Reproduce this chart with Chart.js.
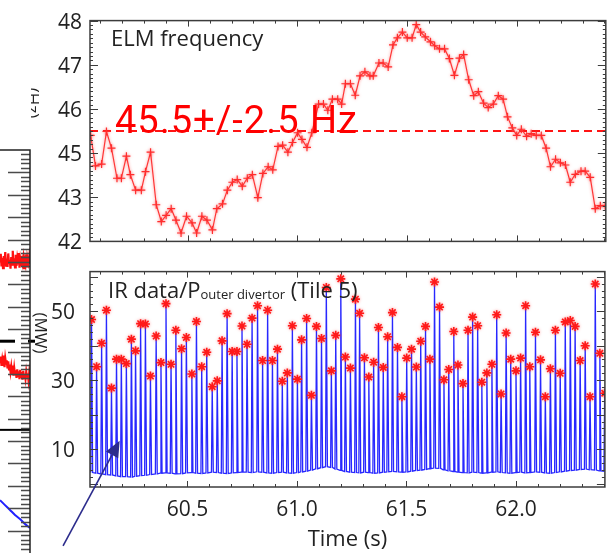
<!DOCTYPE html>
<html>
<head>
<meta charset="utf-8">
<script src="https://cdn.jsdelivr.net/npm/chart.js@4.4.1/dist/chart.umd.min.js"></script>
<style>
  html, body { margin: 0; padding: 0; background: #fff; }
  #wrap { position: relative; width: 611px; height: 553px; overflow: hidden; background: #fff; }
  canvas { position: absolute; left: 0; }
</style>
</head>
<body>
<div id="wrap">
  <canvas id="cLeft" width="40" height="413" style="top:140px"></canvas>
  <canvas id="cTop" width="611" height="262" style="top:0"></canvas>
  <canvas id="cBot" width="611" height="309" style="top:244px"></canvas>
</div>
<script>
// ---- time window (s) ----
const X_MIN = 60.055;
const X_MAX = 62.406;
const TIME_TICKS = [60.5, 61.0, 61.5, 62.0];

// ---- ELM frequency (Hz) at each ELM ----
const ELM_TIME = [
  60.058, 60.080, 60.108, 60.130, 60.153, 60.178, 60.198, 60.221, 60.239, 60.263,
  60.289, 60.308, 60.331, 60.357, 60.380, 60.402, 60.425, 60.447, 60.470, 60.495,
  60.520, 60.541, 60.565, 60.588, 60.613, 60.633, 60.659, 60.681, 60.704, 60.726,
  60.749, 60.772, 60.795, 60.820, 60.843, 60.867, 60.888, 60.912, 60.933, 60.957,
  60.978, 61.001, 61.021, 61.044, 61.066, 61.097, 61.119, 61.139, 61.160, 61.184,
  61.202, 61.219, 61.242, 61.264, 61.286, 61.308, 61.331, 61.346, 61.372, 61.391,
  61.414, 61.436, 61.456, 61.479, 61.501, 61.523, 61.542, 61.562, 61.583, 61.607,
  61.626, 61.648, 61.671, 61.693, 61.716, 61.739, 61.758, 61.781, 61.804, 61.825,
  61.849, 61.870, 61.893, 61.916, 61.938, 61.958, 61.980, 62.000, 62.021, 62.045,
  62.066, 62.089, 62.112, 62.134, 62.154, 62.177, 62.199, 62.222, 62.244, 62.267,
  62.293, 62.312, 62.335, 62.358, 62.381, 62.403
];
const ELM_FREQ = [
  45.40, 44.71, 44.75, 45.49, 45.11, 44.43, 44.43, 44.93, 44.51, 44.16,
  44.16, 44.58, 45.02, 43.83, 43.45, 43.59, 43.74, 43.48, 43.19, 43.57,
  43.42, 43.19, 43.57, 43.48, 43.26, 43.74, 43.85, 44.16, 44.34, 44.40,
  44.25, 44.43, 44.51, 43.99, 44.54, 44.69, 44.62, 45.15, 45.18, 45.02,
  45.24, 45.46, 45.31, 45.13, 45.46, 46.11, 46.11, 45.97, 46.22, 46.22,
  46.11, 46.57, 46.57, 46.31, 46.75, 46.84, 46.75, 46.75, 47.04, 47.04,
  46.95, 47.45, 47.61, 47.74, 47.61, 47.61, 47.91, 47.74, 47.63, 47.52,
  47.43, 47.36, 47.36, 47.14, 46.76, 47.15, 47.23, 46.66, 46.30, 46.39,
  46.13, 46.03, 46.11, 46.30, 46.22, 45.82, 45.57, 45.40, 45.54, 45.38,
  45.44, 45.40, 45.40, 45.11, 44.69, 44.86, 44.78, 44.73, 44.34, 44.52,
  44.59, 44.59, 44.45, 43.74, 43.81, 43.81
];
const REF_FREQ = 45.5;
const REF_SPREAD = 2.5;
const FREQ_TICKS = [43, 44, 45, 46, 47, 48];
const FREQ_TICK_LABELS = ['42', '43', '45', '46', '47', '48'];

// ---- IR heat load on the outer divertor (MW) ----
const PEAK_TIME = [
  60.062, 60.085, 60.108, 60.130, 60.153, 60.176, 60.198, 60.221, 60.244, 60.263,
  60.286, 60.308, 60.331, 60.357, 60.379, 60.402, 60.425, 60.447, 60.473, 60.495,
  60.520, 60.541, 60.565, 60.588, 60.613, 60.636, 60.658, 60.681, 60.704, 60.726,
  60.749, 60.772, 60.795, 60.820, 60.843, 60.866, 60.888, 60.911, 60.933, 60.956,
  60.979, 61.002, 61.021, 61.044, 61.066, 61.089, 61.112, 61.134, 61.157, 61.177,
  61.200, 61.221, 61.244, 61.267, 61.286, 61.308, 61.328, 61.350, 61.372, 61.394,
  61.414, 61.436, 61.459, 61.479, 61.501, 61.523, 61.545, 61.565, 61.587, 61.607,
  61.628, 61.651, 61.671, 61.693, 61.716, 61.735, 61.758, 61.781, 61.802, 61.825,
  61.844, 61.867, 61.890, 61.912, 61.932, 61.955, 61.976, 62.000, 62.021, 62.044,
  62.063, 62.089, 62.112, 62.134, 62.157, 62.180, 62.202, 62.225, 62.248, 62.270,
  62.293, 62.316, 62.338, 62.362, 62.383, 62.405
];
const PEAK_MW = [
  47.6, 33.9, 40.7, 50.3, 27.7, 36.1, 36.1, 34.8, 41.9, 38.5,
  46.4, 46.3, 31.2, 42.8, 35.1, 52.2, 34.6, 44.5, 39.1, 42.4,
  31.8, 47.0, 33.9, 38.1, 28.1, 29.8, 41.4, 49.3, 38.3, 38.3,
  45.7, 40.4, 48.0, 51.6, 35.7, 50.3, 35.7, 39.0, 29.7, 32.1,
  45.8, 30.3, 41.7, 47.9, 25.6, 45.6, 42.1, 56.9, 32.7, 43.0,
  59.4, 36.7, 33.5, 53.5, 49.4, 36.5, 30.9, 35.2, 45.3, 33.7,
  42.6, 49.6, 39.5, 25.2, 36.4, 39.0, 33.8, 41.3, 45.6, 36.1,
  58.5, 51.2, 30.1, 33.1, 44.1, 34.4, 29.0, 44.5, 48.3, 45.8,
  29.4, 32.1, 34.6, 49.0, 26.0, 43.7, 36.1, 32.7, 36.4, 51.6,
  33.9, 43.9, 35.9, 25.2, 33.3, 44.5, 32.0, 46.9, 47.3, 45.6,
  35.7, 40.0, 25.2, 57.9, 37.8, 26.2
];
// inter-ELM background level ahead of each spike (MW)
const BASE_MW = [
  3.2, 3.0, 2.8, 2.6, 2.5, 2.2, 2.0, 2.0, 1.9, 2.1,
  2.3, 2.4, 2.6, 2.8, 3.0, 3.1, 3.0, 2.8, 2.9, 3.1,
  3.2, 3.0, 2.9, 3.1, 3.3, 3.2, 3.0, 2.9, 3.1, 3.2,
  3.3, 3.3, 3.2, 3.4, 3.3, 3.1, 3.0, 3.2, 3.3, 3.1,
  3.0, 3.2, 3.4, 3.6, 3.9, 4.3, 4.6, 4.9, 4.7, 4.2,
  3.8, 3.5, 3.3, 3.2, 3.1, 3.3, 3.2, 3.0, 3.1, 3.3,
  3.4, 3.5, 3.4, 3.3, 3.4, 3.6, 3.8, 3.9, 4.1, 4.3,
  4.5, 4.4, 4.0, 3.7, 3.5, 3.3, 3.2, 3.1, 3.3, 3.2,
  3.0, 3.1, 3.3, 3.4, 3.2, 3.1, 3.0, 3.2, 3.3, 3.1,
  3.2, 3.4, 3.3, 3.1, 3.0, 3.2, 3.4, 3.6, 3.8, 3.9,
  4.1, 4.2, 4.0, 3.9, 3.7, 3.6
];
const POWER_TICKS = [10, 30, 50];

// ---- neighbouring panel (left edge) ----
const NB_RED_A = [
  65.1, 66.8, 64.0, 65.9, 63.6, 66.3, 64.6, 67.2, 64.2, 65.7,
  63.9, 66.9, 64.8, 65.4, 63.5, 66.1, 64.4, 67.5, 64.9, 65.2,
  63.8, 66.6, 64.1, 65.8, 64.7, 67.0, 63.7, 65.5, 64.3, 66.4,
  64.9, 66.0, 63.6, 65.3, 64.5, 66.7, 64.0, 65.6, 64.8, 66.2, 64.6
];
const NB_RED_B = [
  42.6, 43.9, 41.8, 43.2, 42.0, 44.1, 41.5, 43.5, 42.3, 43.0,
  41.2, 42.8, 41.0, 42.1, 40.5, 41.7, 40.2, 41.9, 39.6, 41.3,
  39.9, 40.8, 39.1, 41.0, 39.5, 40.6, 38.8, 40.9, 39.3, 40.4,
  38.7, 40.7, 39.2, 40.0, 38.9, 40.5, 39.4, 40.1, 38.6, 40.3, 39.0
];
const NB_BLUE_X = [0, 5, 10, 15, 20, 25, 30];
const NB_BLUE_Y = [11.8, 10.7, 9.6, 8.5, 7.6, 6.5, 5.6];
const NB_MARK_A = 47.3;
const NB_MARK_B = 27.5;

// ---------------------------------------------------------------
const SANS = '"Open Sans", "DejaVu Sans", sans-serif';
const INK = '#222';
const AXIS = '#3c3c3c';

function pts(xs, ys) { return xs.map((x, i) => ({ x: x, y: ys[i] })); }

// Inward tick marks on all four sides plus the box
function drawBox(chart, cfg) {
  const { ctx, chartArea: a, scales } = chart;
  const xs = scales.x, ys = scales.y;
  ctx.save();
  ctx.strokeStyle = AXIS;
  ctx.lineWidth = 1;
  ctx.beginPath();
  const k0 = Math.ceil(xs.min / cfg.xStep - 1e-6), k1 = Math.floor(xs.max / cfg.xStep + 1e-6);
  for (let k = k0; k <= k1; k++) {
    const x = Math.round(xs.getPixelForValue(k * cfg.xStep)) + 0.5;
    const len = (k % cfg.xMajorEvery === 0) ? cfg.majorLen : cfg.minorLen;
    ctx.moveTo(x, a.bottom); ctx.lineTo(x, a.bottom - len);
    ctx.moveTo(x, a.top); ctx.lineTo(x, a.top + len);
  }
  const j0 = Math.ceil(ys.min / cfg.yStep - 1e-6), j1 = Math.floor(ys.max / cfg.yStep + 1e-6);
  for (let j = j0; j <= j1; j++) {
    const y = Math.round(ys.getPixelForValue(j * cfg.yStep)) + 0.5;
    const len = (j % cfg.yMajorEvery === 0) ? cfg.majorLen + 2 : cfg.minorLen;
    ctx.moveTo(a.left, y); ctx.lineTo(a.left + len, y);
    ctx.moveTo(a.right, y); ctx.lineTo(a.right - len, y);
  }
  ctx.stroke();
  ctx.lineWidth = 1.5;
  ctx.strokeRect(a.left, a.top, a.right - a.left, a.bottom - a.top);
  ctx.restore();
}

function rotatedText(ctx, text, x, y, font, clipLeft) {
  ctx.save();
  if (clipLeft !== undefined) {
    ctx.beginPath(); ctx.rect(clipLeft, 0, 200, 2000); ctx.clip();
  }
  ctx.translate(x, y);
  ctx.rotate(Math.PI / 2);
  ctx.font = font;
  ctx.fillStyle = INK;
  ctx.textAlign = 'center';
  ctx.textBaseline = 'middle';
  ctx.fillText(text, 0, 0);
  ctx.restore();
}

// soft red glow around the red markers
const glow = {
  id: 'glow',
  beforeDatasetDraw(chart, args) {
    if (chart.data.datasets[args.index].glow) {
      chart.ctx.save();
      chart.ctx.shadowColor = 'rgba(255,40,40,0.55)';
      chart.ctx.shadowBlur = 3;
    }
  },
  afterDatasetDraw(chart, args) {
    if (chart.data.datasets[args.index].glow) chart.ctx.restore();
  }
};

const common = {
  responsive: false,
  animation: false,
  events: [],
  plugins: { legend: { display: false }, tooltip: { enabled: false } }
};

// ================= top panel: ELM frequency =================
new Chart(document.getElementById('cTop'), {
  type: 'line',
  data: {
    datasets: [
      {
        data: pts(ELM_TIME, ELM_FREQ),
        glow: true,
        borderColor: 'rgb(255,55,55)',
        borderWidth: 1.2,
        pointStyle: 'cross',
        pointRadius: 4,
        pointBorderWidth: 1.2,
        pointBorderColor: 'rgb(255,45,45)',
        tension: 0
      },
      {
        data: [{ x: X_MIN, y: REF_FREQ }, { x: X_MAX, y: REF_FREQ }],
        borderColor: '#ff1414',
        borderWidth: 2,
        borderDash: [8, 5],
        pointRadius: 0
      }
    ]
  },
  options: Object.assign({}, common, {
    layout: { padding: { left: 0, top: 14, right: 2, bottom: 19 } },
    scales: {
      x: {
        type: 'linear', min: X_MIN, max: X_MAX,
        afterFit(s) { s.height = 0; },
        grid: { display: false, drawTicks: false }, border: { display: false },
        ticks: { display: false }
      },
      y: {
        type: 'linear', min: 43, max: 48,
        afterFit(s) { s.width = 90; },
        afterBuildTicks(s) { s.ticks = FREQ_TICKS.map(v => ({ value: v })); },
        grid: { display: false, drawTicks: false }, border: { display: false },
        ticks: {
          padding: 8, labelOffset: 2, autoSkip: false, color: INK,
          font: { family: SANS, size: 21 },
          callback: (v, i) => FREQ_TICK_LABELS[i]
        }
      }
    }
  }),
  plugins: [glow, {
    id: 'topDecor',
    afterDraw(chart) {
      drawBox(chart, { xStep: 0.1, xMajorEvery: 5, yStep: 0.1, yMajorEvery: 10, majorLen: 6, minorLen: 3 });
      const { ctx, chartArea: a } = chart;
      ctx.save();
      ctx.fillStyle = INK;
      ctx.font = '22px ' + SANS;
      ctx.textBaseline = 'alphabetic';
      ctx.fillText('ELM frequency', a.left + 21, a.top + 25);
      ctx.fillStyle = '#ff0000';
      ctx.font = '38px Roboto, "DejaVu Sans", sans-serif';
      ctx.letterSpacing = '1px';
      ctx.fillText(REF_FREQ + '+/-' + REF_SPREAD + ' Hz', a.left + 25, a.top + 112);
      ctx.restore();
      rotatedText(ctx, '(Hz)', 32, 103, '17px ' + SANS, 31);
    }
  }]
});

// ================= bottom panel: IR heat load =================
const trace = [];
PEAK_TIME.forEach((t, i) => {
  trace.push({ x: t - 0.0035, y: BASE_MW[i] });
  trace.push({ x: t, y: PEAK_MW[i] });
  trace.push({ x: t + 0.005, y: BASE_MW[i] });
});

new Chart(document.getElementById('cBot'), {
  type: 'line',
  data: {
    datasets: [
      {
        data: pts(PEAK_TIME, PEAK_MW),
        glow: true,
        showLine: false,
        pointStyle: 'star',
        pointRadius: 4.5,
        pointBorderWidth: 1.6,
        pointBorderColor: '#ff1a1a',
        pointBackgroundColor: '#ff1a1a'
      },
      {
        data: trace,
        borderColor: 'rgb(40,40,255)',
        borderWidth: 1.3,
        pointRadius: 0,
        tension: 0
      }
    ]
  },
  options: Object.assign({}, common, {
    layout: { padding: { left: 0, top: 1, right: 2, bottom: 0 } },
    scales: {
      x: {
        type: 'linear', min: X_MIN, max: X_MAX,
        afterFit(s) { s.height = 66; },
        afterBuildTicks(s) { s.ticks = TIME_TICKS.map(v => ({ value: v })); },
        grid: { display: false, drawTicks: false }, border: { display: false },
        ticks: {
          padding: 10, maxRotation: 0, autoSkip: false, color: INK,
          font: { family: SANS, size: 21 },
          callback: v => v.toFixed(1)
        },
        title: { display: true, text: 'Time (s)', color: INK, font: { family: SANS, size: 22 }, padding: { top: 0, bottom: 0 } }
      },
      y: {
        type: 'linear', min: -1, max: 61.5,
        afterFit(s) { s.width = 90; },
        afterBuildTicks(s) { s.ticks = POWER_TICKS.map(v => ({ value: v })); },
        grid: { display: false, drawTicks: false }, border: { display: false },
        ticks: { padding: 15, labelOffset: 2, autoSkip: false, color: INK, font: { family: SANS, size: 21 } }
      }
    }
  }),
  plugins: [glow, {
    id: 'botDecor',
    afterDraw(chart) {
      drawBox(chart, { xStep: 0.1, xMajorEvery: 5, yStep: 2, yMajorEvery: 5, majorLen: 6, minorLen: 3 });
      const { ctx, chartArea: a, scales } = chart;
      // panel title with subscript
      ctx.save();
      ctx.fillStyle = INK;
      ctx.textBaseline = 'alphabetic';
      let x = a.left + 18;
      const yb = a.top + 26;
      ctx.font = '22px ' + SANS;
      ctx.fillText('IR data/P', x, yb);
      x += ctx.measureText('IR data/P').width;
      ctx.font = '13px ' + SANS;
      ctx.fillText('outer divertor', x, yb + 1);
      x += ctx.measureText('outer divertor').width;
      ctx.font = '22px ' + SANS;
      ctx.fillText(' (Tile 5)', x, yb);
      ctx.restore();
      rotatedText(ctx, '(MW)', 40, 89, '17px ' + SANS);
      // arrow pointing at the inter-ELM level
      const tip = { x: scales.x.getPixelForValue(60.1905), y: scales.y.getPixelForValue(12.4) };
      const tail = { x: scales.x.getPixelForValue(59.932), y: scales.y.getPixelForValue(-18.05) };
      const ang = Math.atan2(tip.y - tail.y, tip.x - tail.x);
      const hl = 16, hw = 7;
      const bx = tip.x - hl * Math.cos(ang), by = tip.y - hl * Math.sin(ang);
      ctx.save();
      ctx.strokeStyle = '#2c2c8c';
      ctx.fillStyle = '#2c2c8c';
      ctx.lineWidth = 1.6;
      ctx.beginPath(); ctx.moveTo(tail.x, tail.y); ctx.lineTo(bx, by); ctx.stroke();
      ctx.beginPath();
      ctx.moveTo(tip.x, tip.y);
      ctx.lineTo(bx + hw * Math.sin(ang), by - hw * Math.cos(ang));
      ctx.lineTo(bx - hw * Math.sin(ang), by + hw * Math.cos(ang));
      ctx.closePath(); ctx.fill();
      ctx.restore();
    }
  }]
});

// ================= neighbouring panel edge =================
const nbX = NB_RED_A.map((v, i) => i * 0.75);
new Chart(document.getElementById('cLeft'), {
  type: 'line',
  data: {
    datasets: [
      { data: pts(nbX, NB_RED_A), borderColor: '#ff1010', borderWidth: 2.2, pointRadius: 0 },
      { data: pts(nbX, NB_RED_B), borderColor: '#ff1010', borderWidth: 2.2, pointRadius: 0 },
      { data: pts(NB_BLUE_X, NB_BLUE_Y), borderColor: '#2020ff', borderWidth: 2, pointRadius: 0, tension: 0.3 },
      { data: [{ x: 0, y: NB_MARK_A }, { x: 15, y: NB_MARK_A }], borderColor: '#000', borderWidth: 3, pointRadius: 0 },
      { data: [{ x: 28, y: NB_MARK_A }, { x: 35, y: NB_MARK_A }], borderColor: '#000', borderWidth: 3, pointRadius: 0, clip: false },
      { data: [{ x: 0, y: NB_MARK_B }, { x: 30, y: NB_MARK_B }], borderColor: '#000', borderWidth: 2, pointRadius: 0 }
    ]
  },
  options: Object.assign({}, common, {
    layout: { padding: { left: 0, top: 10, right: 10, bottom: 0 } },
    scales: {
      x: { type: 'linear', min: 0, max: 30, display: false },
      y: { type: 'linear', min: 0, max: 90, display: false }
    }
  }),
  plugins: [{
    id: 'nbFrame',
    afterDraw(chart) {
      const { ctx, chartArea: a, scales } = chart;
      ctx.save();
      ctx.strokeStyle = '#4a4a4a';
      ctx.lineWidth = 1.6;
      ctx.beginPath();
      for (let v = 1; v <= 89; v++) {
        const y = Math.round(scales.y.getPixelForValue(v)) + 0.5;
        const len = (v % 5 === 0) ? 22 : 9;
        ctx.moveTo(a.right, y); ctx.lineTo(a.right - len, y);
      }
      ctx.stroke();
      ctx.strokeStyle = '#222';
      ctx.lineWidth = 1.5;
      ctx.beginPath();
      ctx.moveTo(0, a.top); ctx.lineTo(a.right, a.top); ctx.lineTo(a.right, a.bottom + 2);
      ctx.stroke();
      ctx.restore();
    }
  }]
});
</script>
</body>
</html>
